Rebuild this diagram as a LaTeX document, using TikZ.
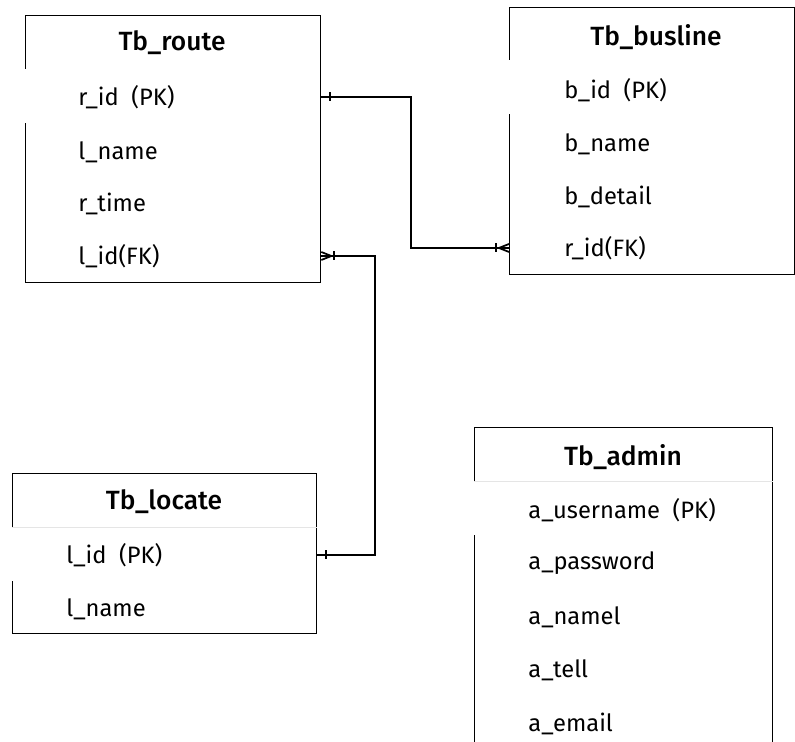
\documentclass[tikz,border=0pt]{standalone}
\usepackage{fontspec}
\setmainfont{Fira Sans}
\newfontfamily\ttlfont{Fira Sans Medium}
\usetikzlibrary{positioning,calc}

\tikzset{
  tbl/.style={draw=black, line width=0.8pt, anchor=north west, inner sep=0pt},
  pkrow/.style={fill=white, draw=none, anchor=north west, inner sep=0pt, minimum height=1.08cm},
  pkline/.style={draw=black!10, line width=0.4pt},
  ttl/.style={inner sep=0pt, font=\ttlfont\fontsize{15}{17}\selectfont},
  fld/.style={anchor=west, inner sep=0pt, font=\fontsize{13.5}{16}\selectfont},
  link/.style={line width=1.1pt},
  onebar/.pic={\draw[line width=1.1pt] (0,-4.5) -- (0,4.5);},
  crow/.pic={\draw[line width=1pt] (0,0) -- (10,4) (0,0) -- (10,-4);},
}

\begin{document}
\begin{tikzpicture}[x=0.02cm,y=-0.02cm]
\fill[white] (0,0) rectangle (795,742);
\useasboundingbox (0,0) rectangle (795,742);

% Tb_route
\node[tbl, minimum width=5.9cm, minimum height=5.34cm] (route) at (25,15) {};
\node[pkrow, minimum width=5.9cm] (routepk) at (25,69) {};
\node[ttl] (routet) at (172,43) {Tb\_route};
\node[fld] (rid) at (78,97) {r\_id\ \ (PK)};
\node[fld] (lname) at (78,152) {l\_name};
\node[fld] (rtime) at (78,204) {r\_time};
\node[fld] (lfk) at (78,256) {l\_id(FK)};

% Tb_busline
\node[tbl, minimum width=5.7cm, minimum height=5.34cm] (busline) at (509,7) {};
\node[pkrow, minimum width=5.7cm] (buslinepk) at (509,60) {};
\node[ttl] (buslinet) at (656,37) {Tb\_busline};
\node[fld] (bid) at (564,90) {b\_id\ \ (PK)};
\node[fld] (bname) at (564,144) {b\_name};
\node[fld] (bdetail) at (564,197) {b\_detail};
\node[fld] (rfk) at (564,248) {r\_id(FK)};

% Tb_locate
\node[tbl, minimum width=6.08cm, minimum height=3.2cm] (locate) at (12,473) {};
\node[pkrow, minimum width=6.08cm] (locatepk) at (12,527) {};
\draw[pkline] (locatepk.north west) -- (locatepk.north east);
\node[ttl] (locatet) at (164,502) {Tb\_locate};
\node[fld] (lid) at (66,555) {l\_id\ \ (PK)};
\node[fld] (lname2) at (66,609) {l\_name};

% Tb_admin
\node[tbl, minimum width=5.96cm, minimum height=6.8cm] (admin) at (474,427) {};
\node[pkrow, minimum width=5.96cm] (adminpk) at (474,481) {};
\draw[pkline] (adminpk.north west) -- (adminpk.north east);
\node[ttl] (admint) at (623,457) {Tb\_admin};
\node[fld] (auser) at (528,510) {a\_username\ \ (PK)};
\node[fld] (apass) at (528,563) {a\_password};
\node[fld] (aname) at (528,617) {a\_namel};
\node[fld] (atell) at (528,670) {a\_tell};
\node[fld] (amail) at (528,724) {a\_email};

% relations
\draw[link] (rid -| route.east) -- ++(90,0) |- (rfk -| busline.west);
\pic at ($(rid -| route.east)+(9,0)$) {onebar};
\pic at ($(rfk -| busline.west)+(-13,0)$) {onebar};
\pic at ($(rfk -| busline.west)+(-10,0)$) {crow};

\draw[link] (lfk -| route.east) -- ++(54,0) |- (lid -| locate.east);
\pic at ($(lfk -| route.east)+(13,0)$) {onebar};
\pic[rotate=180] at ($(lfk -| route.east)+(10,0)$) {crow};
\pic at ($(lid -| locate.east)+(9,0)$) {onebar};
\end{tikzpicture}
\end{document}
